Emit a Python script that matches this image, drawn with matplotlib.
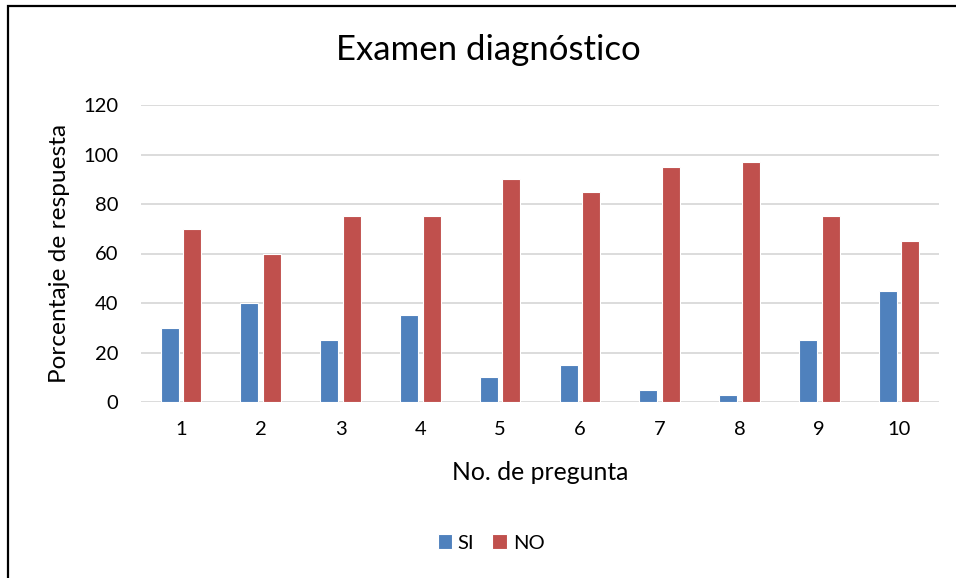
import matplotlib
matplotlib.use("Agg")
import matplotlib.pyplot as plt
import numpy as np
from matplotlib.patches import Rectangle

plt.rcParams['font.family'] = ['Lato', 'DejaVu Sans']

preguntas = ['1', '2', '3', '4', '5', '6', '7', '8', '9', '10']
si = [30, 40, 25, 35, 10, 15, 5, 3, 25, 45]
no = [70, 60, 75, 75, 90, 85, 95, 97, 75, 65]

W, H = 956, 578
fig = plt.figure(figsize=(W / 100, H / 100), dpi=100)

# outer chart frame (runs off the right and bottom edges)
fig.patches.append(Rectangle((8 / W, -0.1), 1.2, (H - 6) / H + 0.1,
                             transform=fig.transFigure, fill=False,
                             edgecolor='black', linewidth=1.6))

ax = fig.add_axes([141 / W, (H - 402) / H, (939 - 141) / W, (402 - 105) / H])

x = np.arange(len(preguntas))
bw = 0.225
off = 0.142
ax.bar(x - off, si, bw, color='#4F81BD', edgecolor='white', linewidth=0.8, label='SI', zorder=3)
ax.bar(x + off, no, bw, color='#C0504D', edgecolor='white', linewidth=0.8, label='NO', zorder=3)

ax.set_xlim(-0.5, len(preguntas) - 0.5)
ax.set_ylim(0, 120)
ax.set_yticks(range(0, 121, 20))
ax.set_xticks(x)
ax.set_xticklabels(preguntas)
ax.grid(axis='y', color='#D9D9D9', linewidth=1.3, zorder=0)
for s in ax.spines.values():
    s.set_visible(False)
ax.tick_params(axis='both', length=0, labelsize=14.5, colors='#000000')
ax.tick_params(axis='y', pad=16.5)
ax.tick_params(axis='x', pad=14)

ax.set_xlabel('No. de pregunta', fontsize=17.8)
ax.set_ylabel('Porcentaje de respuesta', fontsize=17.6)
ax.xaxis.label.set_va('center')
ax.yaxis.label.set_va('center')
ax.xaxis.set_label_coords(0.5, (402 - 472) / -297)
ax.yaxis.set_label_coords((60 - 141) / 798, 0.5)
ax.xaxis.set_label_coords(0.5, -(472 - 402) / 297)
fig.text(488 / W, 1 - 50 / H, 'Examen diagnóstico', fontsize=25, ha='center', va='center')

fig.legend(loc='center', bbox_to_anchor=(491 / W, 1 - 543 / H), ncol=2, frameon=False,
           fontsize=14.5, handlelength=0.7, handleheight=0.7, handletextpad=0.3,
           columnspacing=0.9)

fig.savefig('out.png', dpi=100)
